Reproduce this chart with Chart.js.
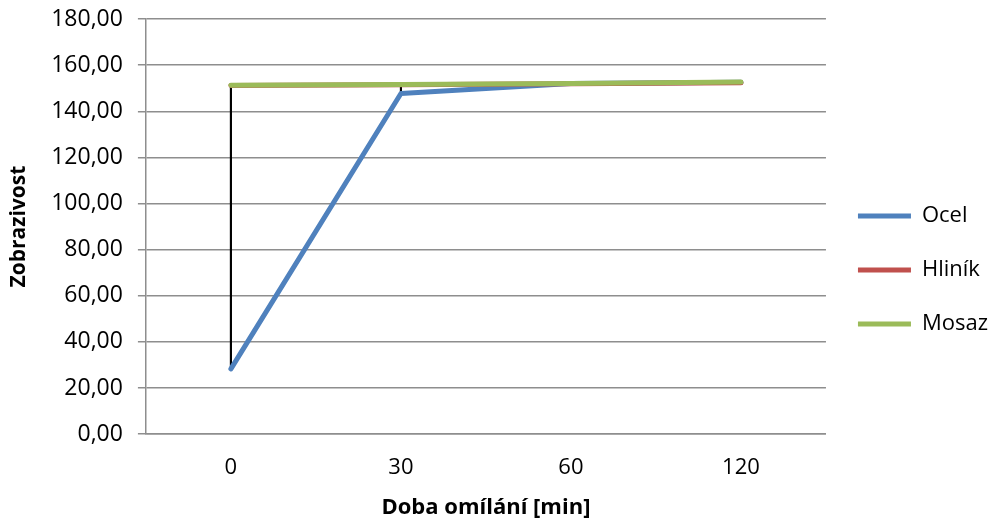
<!DOCTYPE html>
<html>
<head>
<meta charset="utf-8">
<script src="https://cdn.jsdelivr.net/npm/chart.js@4.4.3/dist/chart.umd.min.js"></script>
<style>
  html, body { margin: 0; padding: 0; background: #fff; }
  #wrap { width: 998px; height: 525px; position: relative; }
</style>
</head>
<body>
<div id="wrap"><canvas id="chart"></canvas></div>
<script>
// Data
const categories = ['0', '30', '60', '120'];
const ocel = [28.3, 147.7, 152.0, 152.6];
const hlinik = [151.2, 151.5, 151.9, 152.4];
const mosaz = [151.3, 151.6, 152.0, 152.7];

// high-low lines: min..max of all series at each category
const highLow = categories.map((_, i) => {
  const vals = [ocel[i], hlinik[i], mosaz[i]];
  return [Math.min(...vals), Math.max(...vals)];
});

const FONT = "'Open Sans', 'DejaVu Sans', sans-serif";
const gridColor = '#8e8e8e';

function lineSet(label, data, color, order) {
  return {
    type: 'line',
    label,
    data,
    borderColor: color,
    backgroundColor: color,
    borderWidth: 5,
    borderCapStyle: 'round',
    borderJoinStyle: 'round',
    pointRadius: 0,
    pointHoverRadius: 0,
    tension: 0,
    order
  };
}

new Chart(document.getElementById('chart'), {
  data: {
    labels: categories,
    datasets: [
      lineSet('Ocel', ocel, '#4F81BD', 2),
      lineSet('Hliník', hlinik, '#C0504D', 1),
      lineSet('Mosaz', mosaz, '#9BBB59', 0),
      {
        type: 'bar',
        label: 'hl',
        data: highLow,
        backgroundColor: '#000',
        borderWidth: 0,
        barThickness: 1.5,
        order: 3
      }
    ]
  },
  options: {
    responsive: true,
    maintainAspectRatio: false,
    animation: false,
    layout: { padding: { left: 6, top: 19, right: 0, bottom: 4 } },
    plugins: {
      tooltip: { enabled: false },
      legend: {
        position: 'right',
        labels: {
          filter: (item) => item.text !== 'hl',
          sort: (a, b) => a.datasetIndex - b.datasetIndex,
          usePointStyle: true,
          pointStyle: 'line',
          pointStyleWidth: 53,
          padding: 32,
          color: '#000',
          font: { family: FONT, size: 22 }
        }
      }
    },
    scales: {
      x: {
        offset: true,
        grid: { display: false, drawTicks: false },
        border: { display: true, color: gridColor, width: 1.5 },
        ticks: { color: '#000', padding: 20, font: { family: FONT, size: 22 } },
        title: {
          display: true,
          text: 'Doba omílání [min]',
          color: '#000',
          padding: { top: -6, bottom: 0 },
          font: { family: FONT, size: 22, weight: 'bold' }
        }
      },
      y: {
        min: 0,
        max: 180,
        ticks: {
          stepSize: 20,
          color: '#000',
          padding: 15,
          font: { family: FONT, size: 23, lineHeight: 0.2 },
          callback: (v) => v.toFixed(2).replace('.', ',')
        },
        grid: { color: gridColor, lineWidth: 1.5, tickLength: 8 },
        border: { display: true, color: gridColor, width: 1.5 },
        title: {
          display: true,
          text: 'Zobrazivost',
          color: '#000',
          padding: { top: 0, bottom: 5 },
          font: { family: FONT, size: 21, weight: 'bold' }
        }
      }
    }
  }
});
</script>
</body>
</html>
